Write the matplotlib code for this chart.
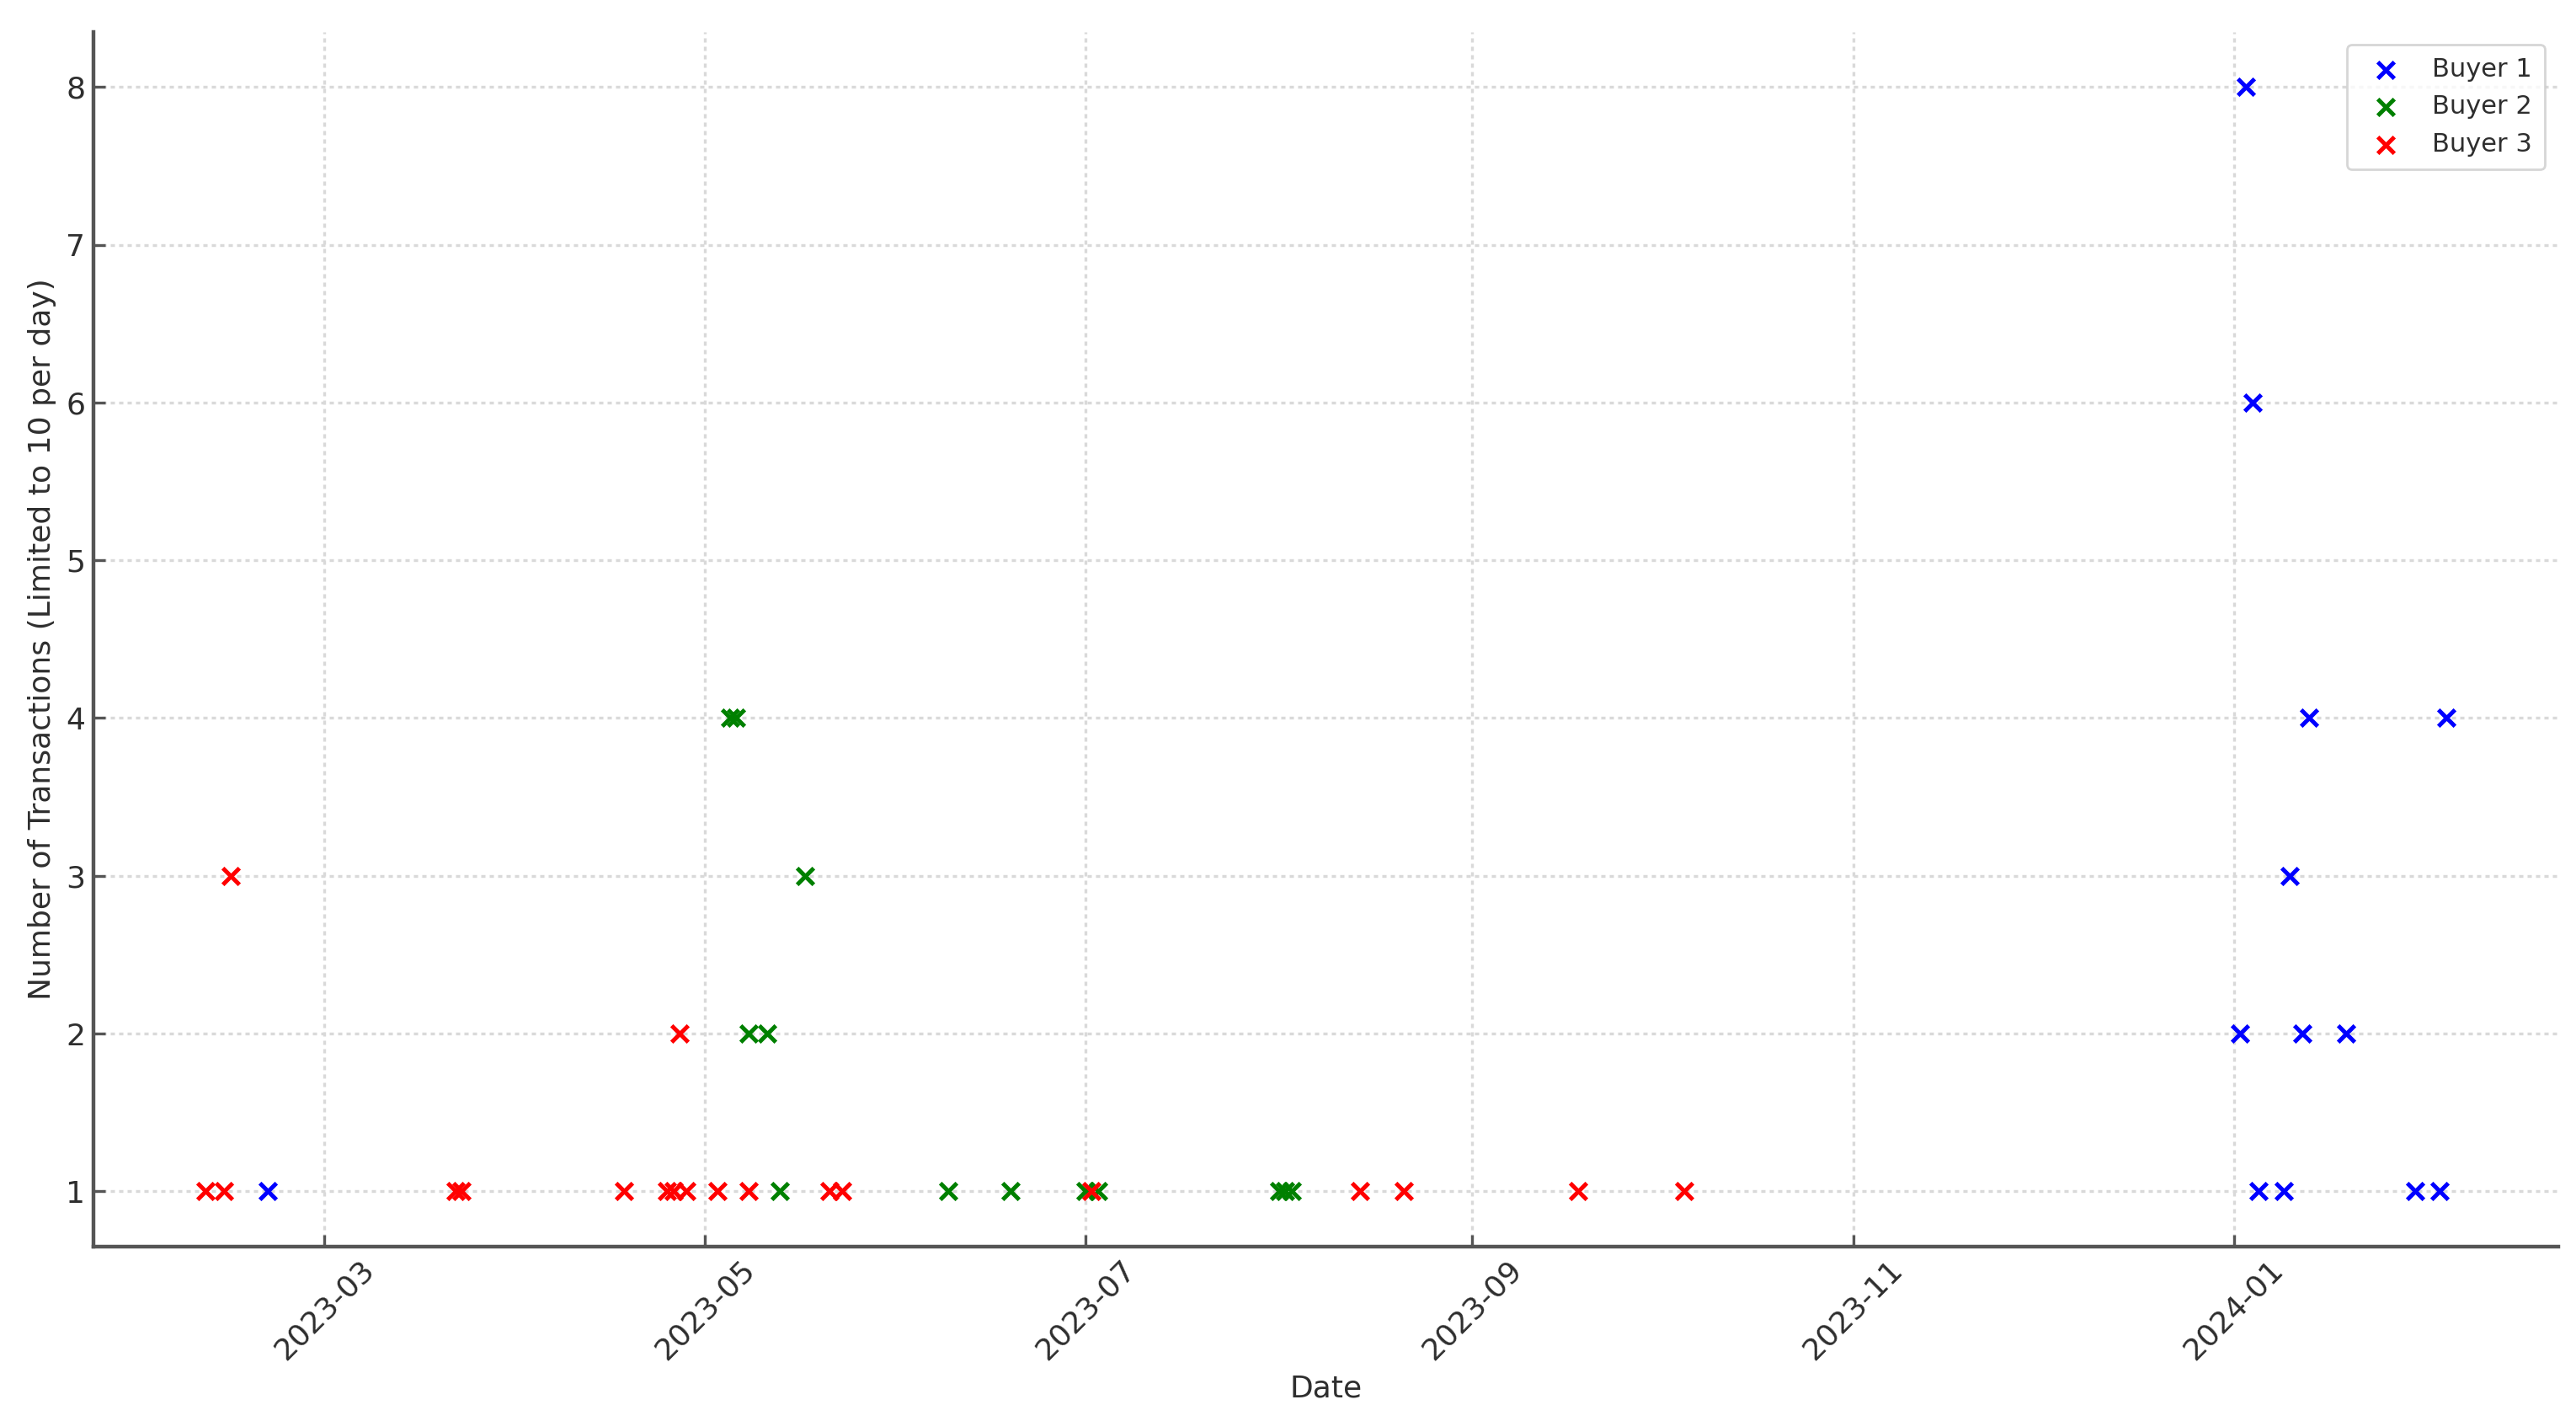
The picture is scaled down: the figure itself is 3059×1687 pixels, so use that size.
import pandas as pd
import matplotlib
matplotlib.use("Agg")
import matplotlib.pyplot as plt

# Buyer 1
b1_dates = ["2023-02-20", "2024-01-02", "2024-01-03", "2024-01-04", "2024-01-05",
            "2024-01-09", "2024-01-10", "2024-01-12", "2024-01-13", "2024-01-19",
            "2024-01-30", "2024-02-03", "2024-02-04"]
b1_counts = [1, 2, 8, 6, 1, 1, 3, 2, 4, 2, 1, 1, 4]

# Buyer 2
b2_dates = ["2023-05-05", "2023-05-06", "2023-05-08", "2023-05-11", "2023-05-13",
            "2023-05-17", "2023-06-09", "2023-06-19", "2023-07-01", "2023-07-03",
            "2023-08-01", "2023-08-02", "2023-08-03"]
b2_counts = [4, 4, 2, 2, 1, 3, 1, 1, 1, 1, 1, 1, 1]

# Buyer 3
b3_dates = ["2023-02-10", "2023-02-13", "2023-02-14", "2023-03-22", "2023-03-23",
            "2023-04-18", "2023-04-25", "2023-04-26", "2023-04-27", "2023-04-28",
            "2023-05-03", "2023-05-08", "2023-05-21", "2023-05-23", "2023-07-02",
            "2023-08-14", "2023-08-21", "2023-09-18", "2023-10-05"]
b3_counts = [1, 1, 3, 1, 1, 1, 1, 1, 2, 1, 1, 1, 1, 1, 1, 1, 1, 1, 1]

series = [("Buyer 1", b1_dates, b1_counts, "blue"),
          ("Buyer 2", b2_dates, b2_counts, "green"),
          ("Buyer 3", b3_dates, b3_counts, "red")]

plt.rcParams["font.family"] = "DejaVu Sans"
text_col = "#2e2e2e"
spine_col = "#555555"

fig = plt.figure(figsize=(15.295, 8.435), dpi=200)
ax = fig.add_axes([0.0363, 0.1227, 0.9567, 0.855])

for name, d, c, col in series:
    ax.scatter(pd.to_datetime(d), c, marker="x", color=col, s=50,
               linewidths=1.8, label=name, zorder=3)

ax.grid(True, linestyle=(0, (1.5, 1.5)), color="#d9d9d9", linewidth=1.2)
ax.set_axisbelow(True)
for side in ["top", "right"]:
    ax.spines[side].set_visible(False)
for side in ["left", "bottom"]:
    ax.spines[side].set_color(spine_col)
    ax.spines[side].set_linewidth(1.6)

ax.tick_params(direction="in", colors=spine_col, labelcolor=text_col,
               labelsize=13, length=5, width=1.2)
ax.set_xlabel("Date", fontsize=13, color=text_col)
ax.set_ylabel("Number of Transactions (Limited to 10 per day)", fontsize=13,
              color=text_col)
plt.setp(ax.get_xticklabels(), rotation=45)

leg = ax.legend(loc="upper right", fontsize=11, scatterpoints=1,
                frameon=True, borderpad=0.5)
leg.get_frame().set_edgecolor("#cccccc")
for t in leg.get_texts():
    t.set_color(text_col)

fig.savefig("out.png", dpi=200)
